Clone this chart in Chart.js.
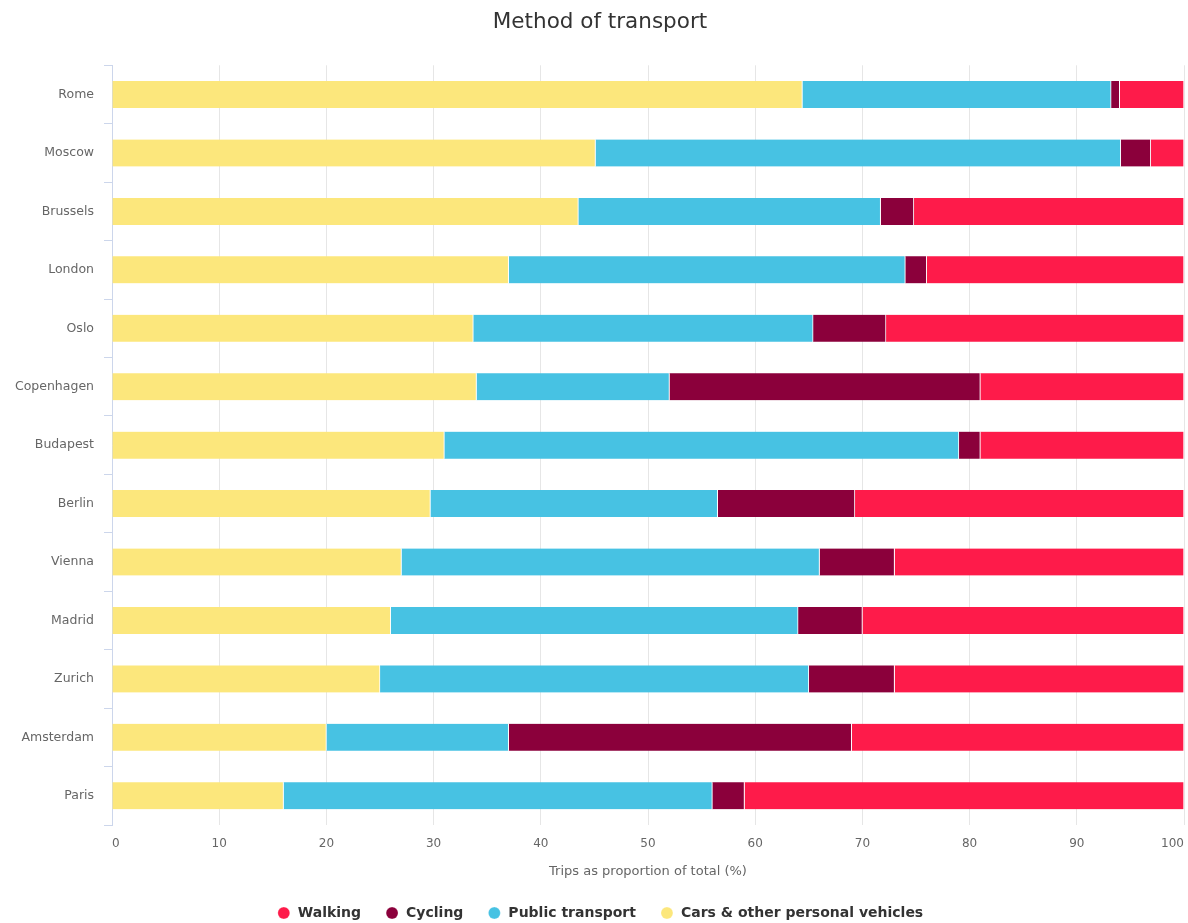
<!DOCTYPE html>
<html>
<head>
<meta charset="utf-8">
<title>Method of transport</title>
<script src="https://cdn.jsdelivr.net/npm/chart.js@4/dist/chart.umd.min.js"></script>
<style>
  html, body { margin: 0; padding: 0; background: #ffffff; }
  #wrap { width: 1188px; height: 923px; position: relative; }
</style>
</head>
<body>
<div id="wrap"><canvas id="chart"></canvas></div>
<script>
// Cities, top to bottom
const cities = ['Rome', 'Moscow', 'Brussels', 'London', 'Oslo', 'Copenhagen', 'Budapest',
  'Berlin', 'Vienna', 'Madrid', 'Zurich', 'Amsterdam', 'Paris'];

// Share of trips by mode (%), one value per city
const cars = [64.4, 45.1, 43.5, 37, 33.7, 34, 31, 29.7, 27, 26, 25, 20, 16];
const publicTransport = [28.8, 49, 28.2, 37, 31.7, 18, 48, 26.8, 39, 38, 40, 17, 40];
const cycling = [0.8, 2.8, 3.1, 2, 6.8, 29, 2, 12.8, 7, 6, 8, 32, 3];
const walking = [6, 3.1, 25.2, 24, 27.8, 19, 19, 30.7, 27, 30, 27, 31, 41];

// Value axis ticks
const xTicks = [0, 10, 20, 30, 40, 50, 60, 70, 80, 90, 100];

const FONT = "'DejaVu Sans', Verdana, sans-serif";

const seg = (label, data, color) => ({
  label, data,
  backgroundColor: color,
  borderColor: '#ffffff',
  borderWidth: { top: 0, bottom: 0, left: 0, right: 1 },
  borderSkipped: false,
  barThickness: 27,
  stack: 'trips'
});

// Nudge the title and legend blocks a little to the right of the canvas centre
const centreShift = {
  id: 'centreShift',
  afterLayout(chart) {
    const dx = 8;
    [chart.titleBlock, chart.legend].forEach(b => {
      if (b) { b.left += dx; b.right += dx; }
    });
  }
};

new Chart(document.getElementById('chart'), {
  type: 'bar',
  data: {
    labels: cities,
    datasets: [
      seg('Cars & other personal vehicles', cars, '#fce77c'),
      seg('Public transport', publicTransport, '#47c2e3'),
      seg('Cycling', cycling, '#8b003b'),
      seg('Walking', walking, '#fe1b4a')
    ]
  },
  plugins: [centreShift],
  options: {
    indexAxis: 'y',
    responsive: true,
    maintainAspectRatio: false,
    animation: false,
    layout: { padding: { top: 0, left: 0, right: 4, bottom: -7 } },
    plugins: {
      title: {
        display: true,
        text: 'Method of transport',
        color: '#333333',
        font: { family: FONT, size: 21.5, weight: 'normal' },
        padding: { top: 10, bottom: 29.5 }
      },
      legend: {
        position: 'bottom',
        reverse: true,
        labels: {
          usePointStyle: true,
          pointStyle: 'circle',
          boxWidth: 14,
          boxHeight: 8.5,
          padding: 24,
          color: '#333333',
          font: { family: FONT, size: 14, weight: 'bold' }
        }
      },
      tooltip: { enabled: false }
    },
    scales: {
      x: {
        stacked: true,
        min: 0,
        max: 100,
        afterBuildTicks: (scale) => { scale.ticks = xTicks.map(v => ({ value: v })); },
        afterFit: (scale) => { scale.paddingLeft = 0; scale.paddingRight = 0; },
        grid: { color: '#e6e6e6', lineWidth: 1, drawTicks: false },
        border: { display: false },
        ticks: {
          color: '#666666',
          padding: 12,
          align: 'inner',
          font: { family: FONT, size: 12 }
        },
        title: {
          display: true,
          text: 'Trips as proportion of total (%)',
          color: '#666666',
          font: { family: FONT, size: 13 },
          padding: { top: 0, bottom: 3 }
        }
      },
      y: {
        stacked: true,
        afterFit: (scale) => { scale.width = 112; scale.paddingTop = 0; scale.paddingBottom = 0; },
        grid: {
          offset: true,
          drawOnChartArea: false,
          drawTicks: true,
          tickLength: 8,
          color: '#ccd6eb'
        },
        border: { display: true, color: '#ccd6eb', width: 1 },
        ticks: {
          color: '#666666',
          padding: 10,
          font: { family: FONT, size: 12.5 }
        }
      }
    }
  }
});
</script>
</body>
</html>
